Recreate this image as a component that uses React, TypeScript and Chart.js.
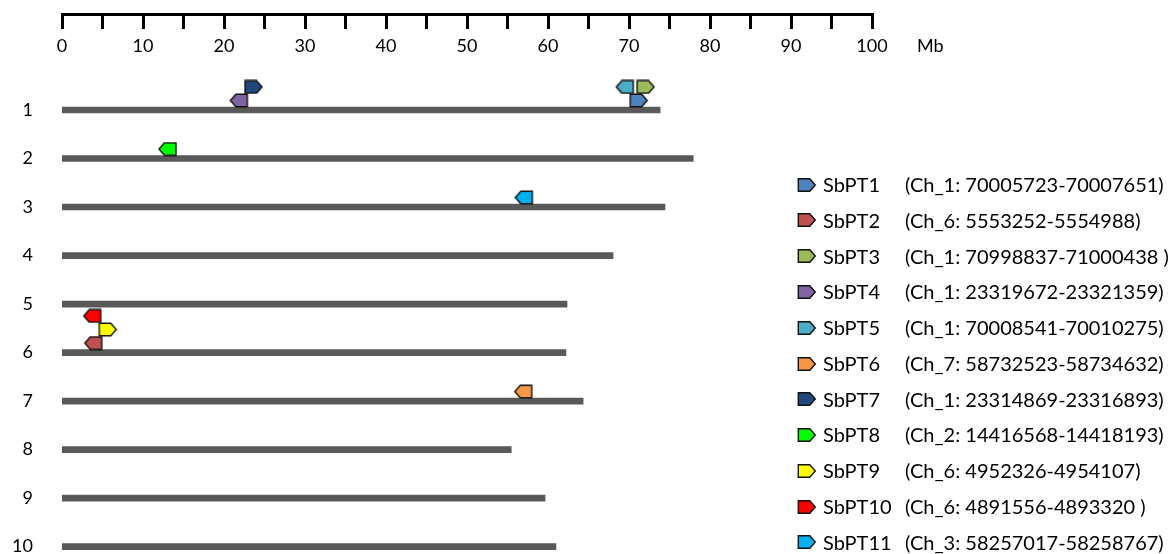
import React, { useEffect, useRef } from 'react';
import { Chart, registerables } from 'chart.js';

Chart.register(...registerables);

// ---------- data ----------
const chromosomes = ['1', '2', '3', '4', '5', '6', '7', '8', '9', '10'];
const chromosomeLengthsMb = [73.84, 77.93, 74.44, 68.03, 62.35, 62.21, 64.34, 55.46, 59.64, 60.98];

const axisMaxMb = 100;
const axisMinorStepMb = 5;
const axisLabelStepMb = 10;
const axisUnit = 'Mb';

const geneNames = ['SbPT1', 'SbPT2', 'SbPT3', 'SbPT4', 'SbPT5', 'SbPT6', 'SbPT7', 'SbPT8', 'SbPT9', 'SbPT10', 'SbPT11'];
const geneLocations = [
  '(Ch_1: 70005723-70007651)',
  '(Ch_6: 5553252-5554988)',
  '(Ch_1: 70998837-71000438 )',
  '(Ch_1: 23319672-23321359)',
  '(Ch_1: 70008541-70010275)',
  '(Ch_7: 58732523-58734632)',
  '(Ch_1: 23314869-23316893)',
  '(Ch_2: 14416568-14418193)',
  '(Ch_6: 4952326-4954107)',
  '(Ch_6: 4891556-4893320 )',
  '(Ch_3: 58257017-58258767)',
];
const geneChromosome = [1, 6, 1, 1, 1, 7, 1, 2, 6, 6, 3];
// position of the marker's flat edge (Mb)
const geneMarkerMb = [70.15, 4.9, 71.0, 22.88, 70.53, 57.99, 22.6, 14.07, 4.6, 4.78, 58.06];
// +1 = arrow pointing right, -1 = arrow pointing left
const geneDirection = [1, -1, 1, -1, -1, -1, 1, -1, 1, -1, -1];
// stacking level above the chromosome line
const geneStackLevel = [1, 1, 2, 1, 2, 1, 2, 1, 2, 3, 1];
const geneColors = ['#4F81BD', '#C0504D', '#9BBB59', '#8064A2', '#4BACC6', '#F79646', '#1F497D', '#00FF00', '#FFFF00', '#FF0000', '#00B0F0'];

// ---------- layout ----------
const W = 1173;
const H = 554;
const Y_MIN = -0.9786;
const Y_MAX = 10.151;
const FONT = 'Lato, "Open Sans", sans-serif';

const MW = 38; // marker image width (anchor at centre)
const MH = 15;
const RECT = 11.5;
const TIP = 5.5;
const SH = 12.5;

function makeMarker(color: string, dir: number): HTMLCanvasElement {
  const c = document.createElement('canvas');
  c.width = MW;
  c.height = MH;
  const ctx = c.getContext('2d')!;
  const cx = MW / 2;
  const top = (MH - SH) / 2;
  ctx.beginPath();
  ctx.moveTo(cx, top);
  ctx.lineTo(cx + dir * RECT, top);
  ctx.lineTo(cx + dir * (RECT + TIP), top + SH / 2);
  ctx.lineTo(cx + dir * RECT, top + SH);
  ctx.lineTo(cx, top + SH);
  ctx.closePath();
  ctx.fillStyle = color;
  ctx.fill();
  ctx.lineWidth = 1.4;
  ctx.strokeStyle = '#111';
  ctx.lineJoin = 'miter';
  ctx.stroke();
  return c;
}

// Ruler along the top, drawn from the x scale's own ticks and pixels.
const rulerPlugin = {
  id: 'ruler',
  afterDraw(chart: any) {
    const xs = chart.scales.x;
    const ys = chart.scales.y;
    const ctx = chart.ctx as CanvasRenderingContext2D;
    const y = Math.round(ys.getPixelForValue(Y_MIN) - 1.5) + 1.5;
    const x0 = xs.getPixelForValue(0);
    const x1 = xs.getPixelForValue(axisMaxMb);
    ctx.save();
    ctx.strokeStyle = '#000';
    ctx.lineWidth = 3;
    ctx.lineCap = 'butt';
    ctx.beginPath();
    ctx.moveTo(Math.round(x0 - 1.5), y);
    ctx.lineTo(Math.round(x1 + 1.5), y);
    ctx.stroke();
    ctx.beginPath();
    for (const t of xs.ticks) {
      const px = Math.round(xs.getPixelForValue(t.value) - 1.5) + 1.5;
      ctx.moveTo(px, y);
      ctx.lineTo(px, y + 1.5 + 13);
    }
    ctx.stroke();
    ctx.fillStyle = '#000';
    ctx.font = `18px ${FONT}`;
    ctx.textAlign = 'center';
    ctx.textBaseline = 'middle';
    for (const t of xs.ticks) {
      if (t.value % axisLabelStepMb !== 0) continue;
      ctx.fillText(String(t.value), xs.getPixelForValue(t.value), y + 31.8);
    }
    ctx.restore();
  },
};

export default function App() {
  const canvasRef = useRef<HTMLCanvasElement | null>(null);

  useEffect(() => {
    const canvas = canvasRef.current;
    if (!canvas) return;
    const images = geneNames.map((_, i) => makeMarker(geneColors[i], geneDirection[i]));
    const markerData = geneNames.map((_, i) => ({
      x: geneMarkerMb[i],
      y: geneChromosome[i] - (0.196 + (geneStackLevel[i] - 1) * 0.28),
    }));
    const barData = chromosomeLengthsMb.map((len, i) => ({ x: [0, len], y: i + 1 }));

    const chart = new Chart(canvas, {
      type: 'bar',
      data: {
        datasets: [
          {
            type: 'scatter',
            data: markerData,
            pointStyle: images as any,
            pointRadius: 6,
            pointHoverRadius: 6,
            order: 0,
            clip: false,
          } as any,
          {
            type: 'bar',
            indexAxis: 'y',
            data: barData as any,
            backgroundColor: '#595959',
            borderWidth: 0,
            barThickness: 6,
            order: 1,
          } as any,
        ],
      },
      options: {
        indexAxis: 'y',
        responsive: false,
        animation: false,
        devicePixelRatio: 1,
        events: [],
        layout: { autoPadding: false, padding: { top: 14, right: 301, bottom: 0, left: 0 } },
        plugins: { legend: { display: false }, tooltip: { enabled: false }, title: { display: false } },
        scales: {
          x: {
            type: 'linear',
            display: false,
            offset: false,
            min: 0,
            max: axisMaxMb,
            ticks: { stepSize: axisMinorStepMb },
          },
          y: {
            type: 'linear',
            reverse: true,
            offset: false,
            min: Y_MIN,
            max: Y_MAX,
            afterFit: (s: any) => {
              s.width = 62;
              s.paddingTop = 0;
              s.paddingBottom = 0;
              s.paddingLeft = 0;
              s.paddingRight = 0;
            },
            afterBuildTicks: (s: any) => {
              s.ticks = chromosomes.map((_, i) => ({ value: i + 1 }));
            },
            border: { display: false },
            grid: { display: false, drawTicks: false, offset: false },
            ticks: {
              padding: 29,
              color: '#000',
              font: { family: FONT, size: 18 },
              callback: (v: any) => chromosomes[Math.round(Number(v)) - 1] ?? '',
            },
          },
        },
      } as any,
      plugins: [rulerPlugin],
    });
    return () => chart.destroy();
  }, []);

  const rowTop = 184.7;
  const rowStep = 35.76;

  return (
    <div style={{ position: 'absolute', left: 0, top: 0, width: W, height: H, fontFamily: FONT, color: '#000', background: '#fff' }}>
      <canvas ref={canvasRef} width={W} height={H} style={{ position: 'absolute', left: 0, top: 0, width: W, height: H }} />
      <div style={{ position: 'absolute', left: 917, top: 36.3, fontSize: 18, lineHeight: '18px', whiteSpace: 'nowrap' }}>{axisUnit}</div>
      {geneNames.map((name, i) => {
        const cy = rowTop + i * rowStep;
        const x0 = 1.3;
        const y0 = 8 - SH / 2;
        const pts = `${x0},${y0} ${x0 + RECT},${y0} ${x0 + RECT + TIP},${y0 + SH / 2} ${x0 + RECT},${y0 + SH} ${x0},${y0 + SH}`;
        return (
          <React.Fragment key={name}>
            <svg width={20} height={16} style={{ position: 'absolute', left: 797, top: cy - 8 }}>
              <polygon points={pts} fill={geneColors[i]} stroke="#111" strokeWidth={1.4} />
            </svg>
            <div style={{ position: 'absolute', left: 823, top: cy - 10.6, fontSize: 20, lineHeight: '20px', whiteSpace: 'pre' }}>{name}</div>
            <div style={{ position: 'absolute', left: 905, top: cy - 10.6, fontSize: 20, lineHeight: '20px', whiteSpace: 'pre' }}>{geneLocations[i]}</div>
          </React.Fragment>
        );
      })}
    </div>
  );
}
